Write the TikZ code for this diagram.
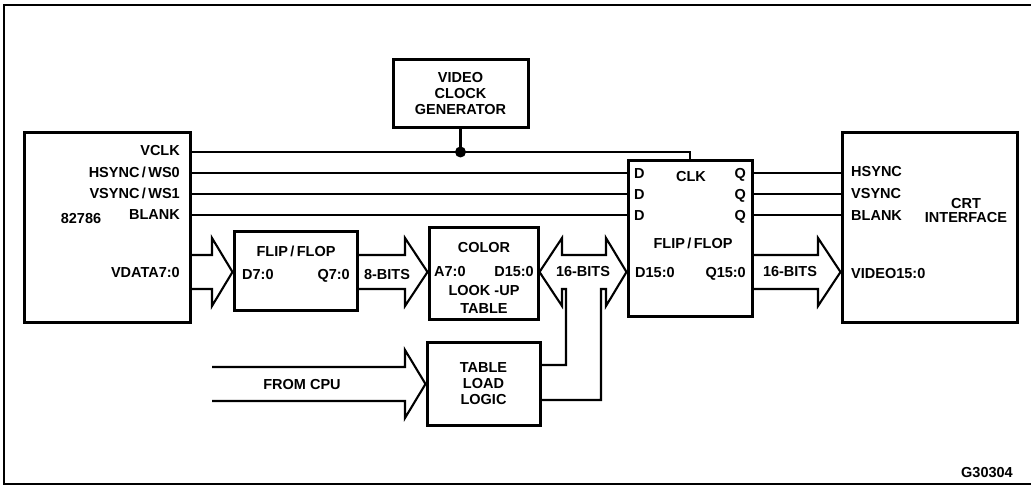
\documentclass[tikz,border=0pt]{standalone}
\usepackage{fontspec}
\setmainfont{Liberation Sans}
\begin{document}
\begin{tikzpicture}[x=1pt,y=-1pt,
  every node/.style={font=\fontsize{14.5}{16}\selectfont\bfseries},
  box/.style={draw,line width=3pt,inner sep=0pt,align=center},
  lbl/.style={inner sep=0pt,text height=10.4pt,text depth=0pt},
  sig/.style={line width=2.1pt},
  bus/.style={line width=2.1pt,line join=miter}]
\useasboundingbox (0,0) rectangle (1031,486);
\draw[line width=2.8pt] (1031,5) -- (4,5) -- (4,484) -- (1031,484);

% boxes
\node[box,minimum width=166pt,minimum height=190pt] (cpu) at (107,228) {};
\node[box,minimum width=123pt,minimum height=79pt] (ff1) at (295.5,271.5) {};
\node[box,minimum width=109pt,minimum height=92pt] (lut) at (483.5,274) {};
\node[box,minimum width=135pt,minimum height=68pt] (vcg) at (460.5,94) {VIDEO\\CLOCK\\GENERATOR};
\node[box,minimum width=124pt,minimum height=156pt] (ff2) at (690,239) {};
\node[box,minimum width=175pt,minimum height=190pt] (crt) at (929.5,228) {};
\node[box,minimum width=113pt,minimum height=82pt] (tll) at (483.5,384) {TABLE\\LOAD\\LOGIC};

% 82786 labels
\node[lbl,anchor=east] (lvclk) at (180,150) {VCLK};
\node[lbl,anchor=east] (lhs) at (180,172) {HSYNC\,/\,WS0};
\node[lbl,anchor=east] (lvs) at (180,193) {VSYNC\,/\,WS1};
\node[lbl,anchor=east] (lbl1) at (180,214) {BLANK};
\node[lbl] (lnum) at (81,218) {82786};
\node[lbl,anchor=east] (lvd) at (180,272) {VDATA7:0};

% FF1 labels
\node[lbl] (f1t) at (296,251) {FLIP\,/\,FLOP};
\node[lbl,anchor=west] (f1d) at (242,274) {D7:0};
\node[lbl,anchor=east] (f1q) at (350,274) {Q7:0};
\node[lbl] (b8) at (387,274) {8-BITS};

% LUT labels
\node[lbl] (lc) at (484,247) {COLOR};
\node[lbl,anchor=west] (la) at (434,271) {A7:0};
\node[lbl,anchor=east] (ld) at (534,271) {D15:0};
\node[lbl] (llu) at (484,290) {LOOK -UP};
\node[lbl] (lt) at (484,308) {TABLE};
\node[lbl] (b16a) at (583,271) {16-BITS};

% FF2 labels
\node[lbl,anchor=west] (d1) at (634,173) {D};
\node[lbl,anchor=west] (d2) at (634,194) {D};
\node[lbl,anchor=west] (d3) at (634,215) {D};
\node[lbl] (clk) at (691,176) {CLK};
\node[lbl,anchor=east] (q1) at (746,173) {Q};
\node[lbl,anchor=east] (q2) at (746,194) {Q};
\node[lbl,anchor=east] (q3) at (746,215) {Q};
\node[lbl] (f2t) at (693,243) {FLIP\,/\,FLOP};
\node[lbl,anchor=west] (f2d) at (635,272) {D15:0};
\node[lbl,anchor=east] (f2q) at (746,272) {Q15:0};
\node[lbl] (b16b) at (790,271) {16-BITS};

% CRT labels
\node[lbl,anchor=west] (ch) at (851,171) {HSYNC};
\node[lbl,anchor=west] (cv) at (851,193) {VSYNC};
\node[lbl,anchor=west] (cb) at (851,215) {BLANK};
\node[lbl,anchor=west] (cvid) at (851,273) {VIDEO15:0};
\node[inner sep=0pt,align=center,font=\fontsize{14.5}{14}\selectfont\bfseries] (ci) at (966,211) {CRT\\INTERFACE};

\node[lbl] (cpul) at (302,384) {FROM CPU};
\node[lbl] (gid) at (987,472) {G30304};

% signal lines
\draw[sig] (cpu.east |- 0,152) -| (ff2.north);
\draw[sig] (vcg.south) -- (vcg.south |- 0,152);
\fill (vcg.south |- 0,152) circle (5.5pt);
\draw[sig] (cpu.east |- 0,173) -- (ff2.west |- 0,173);
\draw[sig] (cpu.east |- 0,194) -- (ff2.west |- 0,194);
\draw[sig] (cpu.east |- 0,215) -- (ff2.west |- 0,215);
\draw[sig] (ff2.east |- 0,173) -- (crt.west |- 0,173);
\draw[sig] (ff2.east |- 0,194) -- (crt.west |- 0,194);
\draw[sig] (ff2.east |- 0,215) -- (crt.west |- 0,215);

% bus arrows
\draw[bus] (cpu.east |- 0,255) -- (212,255) -- (212,238) -- (ff1.west |- 0,272)
  -- (212,306) -- (212,289) -- (cpu.east |- 0,289);
\draw[bus] (ff1.east |- 0,255) -- (405,255) -- (405,238) -- (lut.west |- 0,272)
  -- (405,306) -- (405,289) -- (ff1.east |- 0,289);
\draw[bus] (ff2.east |- 0,255) -- (818,255) -- (818,238) -- (crt.west |- 0,272)
  -- (818,306) -- (818,289) -- (ff2.east |- 0,289);
\coordinate (cpuin) at (212,367);
\coordinate (cpuin2) at (212,401);
\draw[bus] (cpuin) -- (405,367) -- (405,350) -- (tll.west)
  -- (405,418) -- (405,401) -- (cpuin2);
% bidirectional bus with branch
\draw[bus] (tll.east |- 0,400) -- (601,400) -- (601,289) -- (606,289) -- (606,306)
  -- (ff2.west |- 0,272) -- (606,238) -- (606,255) -- (562,255) -- (562,238)
  -- (lut.east |- 0,272) -- (562,306) -- (562,289) -- (566,289) -- (566,365)
  -- (tll.east |- 0,365);
\end{tikzpicture}
\end{document}
